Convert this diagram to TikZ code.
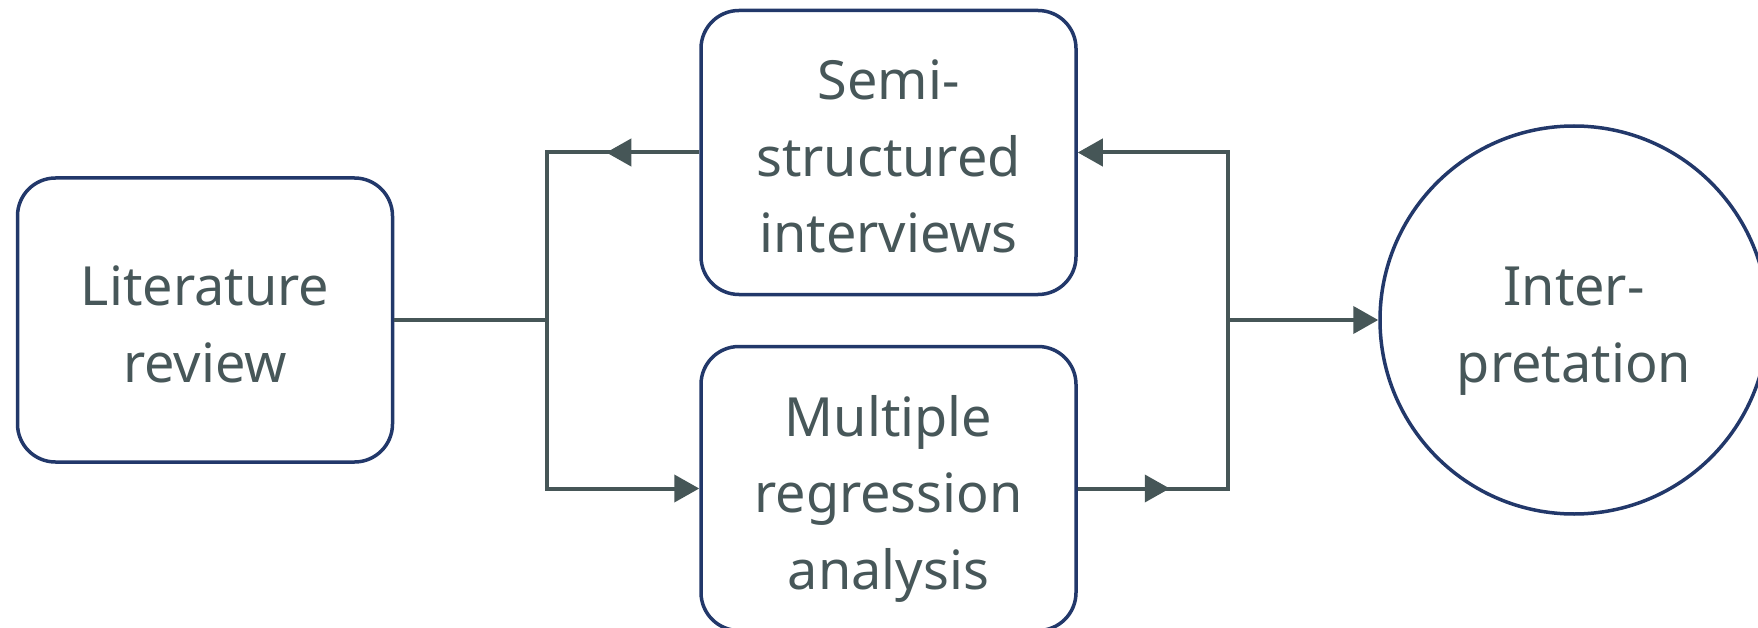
\documentclass[tikz,border=0pt]{standalone}
\usepackage{fontspec}
\setmainfont{Noto Sans}
\usetikzlibrary{arrows.meta,decorations.markings}
\definecolor{boxline}{HTML}{22386A}
\definecolor{flowline}{HTML}{465657}
\definecolor{labeltext}{HTML}{475759}
% fixed struts so every label sits at the same place regardless of its letters
\newcommand\firstln{\rule{0pt}{64pt}}
\newcommand\lastln{\rule[-16pt]{0pt}{16pt}}
\tikzset{
  stage/.style={draw=boxline, line width=3.5pt, rounded corners=38pt,
    minimum width=375pt, minimum height=284pt, inner sep=0pt,
    align=center, text=labeltext, font=\fontsize{54}{76.5}\selectfont},
  endstage/.style={draw=boxline, line width=3.5pt, circle,
    minimum size=388pt, inner sep=0pt,
    align=center, text=labeltext, font=\fontsize{54}{76.5}\selectfont},
  tip/.tip={Triangle[length=25pt,width=27pt]},
  conn/.style={draw=flowline, line width=4pt},
  midtip/.style={postaction=decorate, decoration={markings,
    mark=at position #1 with {\arrow[flowline]{tip}}}}
}
\begin{document}
\begin{tikzpicture}[x=1pt,y=-1pt]
  \useasboundingbox (0,0) rectangle (1758,628);
  \clip (0,0) rectangle (1758,628);

  \node[stage] (lit)   at (205,320)   {\firstln Literature\\review\lastln};
  \node[stage] (semi)  at (888.5,152.5) {\firstln Semi-\\structured\\interviews\lastln};
  \node[stage] (multi) at (888.5,488.5) {\firstln Multiple\\regression\\analysis\lastln};
  \node[endstage] (interp) at (1574,320) {\firstln Inter-\\pretation\lastln};

  % branch points left and right of the parallel stages
  \coordinate (jl) at (546.5,320);
  \coordinate (jr) at (1228,320);
  \coordinate (tl) at (jl |- semi.west);
  \coordinate (bl) at (jl |- multi.west);
  \coordinate (tr) at (jr |- semi.east);
  \coordinate (br) at (jr |- multi.east);

  \draw[conn] (lit.east) -- (jl);
  \draw[conn, midtip=93pt, -{tip}] (semi.west) -- (tl) -- (bl) -- (multi.west);
  \draw[conn, midtip=92pt, -{tip}] (multi.east) -- (br) -- (tr) -- (semi.east);
  \draw[conn, -{tip}] (jr) -- (interp.west);
\end{tikzpicture}
\end{document}
